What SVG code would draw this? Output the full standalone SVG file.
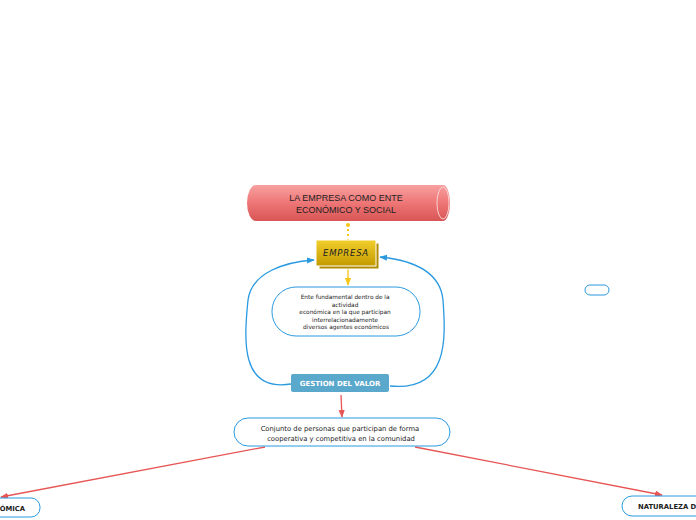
<svg xmlns="http://www.w3.org/2000/svg" width="696" height="520" viewBox="0 0 696 520">
<style>
.pill{fill:#fff;stroke:#2a9ae0;stroke-width:1}
.t{font-family:Verdana,"DejaVu Sans",sans-serif;fill:#222;text-anchor:middle}
.blue{fill:none;stroke:#2a9ae0;stroke-width:1.3}
.red{fill:none;stroke:#e85555;stroke-width:1.3}
</style>
<defs>
<linearGradient id="gRed" x1="0" y1="0" x2="0" y2="1">
<stop offset="0" stop-color="#f7a0a0"/><stop offset="0.5" stop-color="#ee7676"/><stop offset="1" stop-color="#d85555"/>
</linearGradient>
<linearGradient id="gGold" x1="0" y1="0" x2="0" y2="1">
<stop offset="0" stop-color="#f2cf2c"/><stop offset="1" stop-color="#c49a00"/>
</linearGradient>
<marker id="aBlue" viewBox="0 0 10 10" refX="9" refY="5" markerWidth="6" markerHeight="6" orient="auto"><path d="M0,1 L10,5 L0,9 z" fill="#2a9ae0"/></marker>
<marker id="aRed" viewBox="0 0 10 10" refX="9" refY="5" markerWidth="6" markerHeight="6" orient="auto"><path d="M0,1 L10,5 L0,9 z" fill="#e85555"/></marker>
<marker id="aYel" viewBox="0 0 10 10" refX="9" refY="5" markerWidth="6" markerHeight="6" orient="auto"><path d="M0,1 L10,5 L0,9 z" fill="#f5c518"/></marker>
</defs>
<g id="connectors">
<line x1="348" y1="224" x2="348" y2="240" stroke="#f5c518" stroke-width="2" stroke-dasharray="2,3"/>
<circle cx="348" cy="225" r="2" fill="#f5c518"/>
<line x1="348" y1="268" x2="348" y2="285" stroke="#f5c518" stroke-width="1.3" marker-end="url(#aYel)"/>
<path class="blue" d="M291,384 C240,392 244,340 248,300 C252,272 285,262 314,260" marker-end="url(#aBlue)"/>
<path class="blue" d="M390,386 C448,392 446,340 443,300 C440,270 410,260 380,257" marker-end="url(#aBlue)"/>
<line class="red" x1="341" y1="395" x2="342" y2="417" marker-end="url(#aRed)"/>
<line class="red" x1="265" y1="447" x2="1" y2="497" marker-end="url(#aRed)"/>
<line class="red" x1="415" y1="447" x2="662" y2="495" marker-end="url(#aRed)"/>
</g>
<g id="title">
<path d="M256,185 L443,185 A7,18 0 0 1 443,221 L256,221 A9,18 0 0 1 256,185 z" fill="url(#gRed)"/>
<ellipse cx="443" cy="203" rx="6" ry="16" fill="none" stroke="#fbd0d0" stroke-width="1"/>
<text class="t" x="346" y="201" font-family="Liberation Sans,Arial,sans-serif" font-size="9" style="font-family:'Liberation Sans',Arial,sans-serif">LA EMPRESA COMO ENTE</text>
<text class="t" x="346" y="213" style="font-family:'Liberation Sans',Arial,sans-serif" font-size="9">ECONÓMICO Y SOCIAL</text>
</g>
<g id="empresa">
<rect x="319" y="243" width="60" height="26" fill="#b08a00" stroke="#fff" stroke-width="1"/>
<rect x="316" y="240" width="60" height="26" fill="url(#gGold)" stroke="#fff" stroke-width="1"/>
<text class="t" x="346" y="256" font-size="8.5" font-style="italic" letter-spacing="0.8" style="font-family:'DejaVu Sans',sans-serif">EMPRESA</text>
</g>
<g id="descripcion">
<rect class="pill" x="272" y="287" width="148" height="49" rx="24"/>
<text class="t" font-size="5.8" style="font-family:'DejaVu Sans',sans-serif">
<tspan x="346" y="299">Ente fundamental dentro de la</tspan>
<tspan x="346" y="306.5">actividad</tspan>
<tspan x="346" y="314">económica en la que participan</tspan>
<tspan x="346" y="321.5">interrelacionadamente</tspan>
<tspan x="346" y="329">diversos agentes económicos</tspan>
</text>
</g>
<g id="gestion">
<rect x="291" y="374" width="98" height="18" rx="2" fill="#5aa8cc"/>
<text class="t" x="340" y="386" font-size="7" font-weight="bold" fill="#fff" style="fill:#fff;font-family:'DejaVu Sans',sans-serif">GESTION DEL VALOR</text>
</g>
<g id="conjunto">
<rect class="pill" x="234" y="418" width="216" height="28" rx="14"/>
<text class="t" font-size="6.8" style="font-family:'DejaVu Sans',sans-serif">
<tspan x="341" y="431">Conjunto de personas que participan de forma</tspan>
<tspan x="341" y="441">cooperativa y competitiva en la comunidad</tspan>
</text>
</g>
<g id="economica">
<rect class="pill" x="-30" y="498" width="70" height="19" rx="9"/>
<text x="25" y="510.5" font-size="6.8" font-weight="bold" text-anchor="end" fill="#222" style="font-family:'DejaVu Sans',sans-serif">ÓMICA</text>
</g>
<g id="naturaleza">
<rect class="pill" x="622" y="496" width="90" height="20" rx="10"/>
<text x="638" y="509" font-size="6.8" font-weight="bold" fill="#222" style="font-family:'DejaVu Sans',sans-serif">NATURALEZA D</text>
</g>
<g id="vacio">
<rect class="pill" x="585" y="285" width="24" height="10" rx="5"/>
</g>
</svg>
